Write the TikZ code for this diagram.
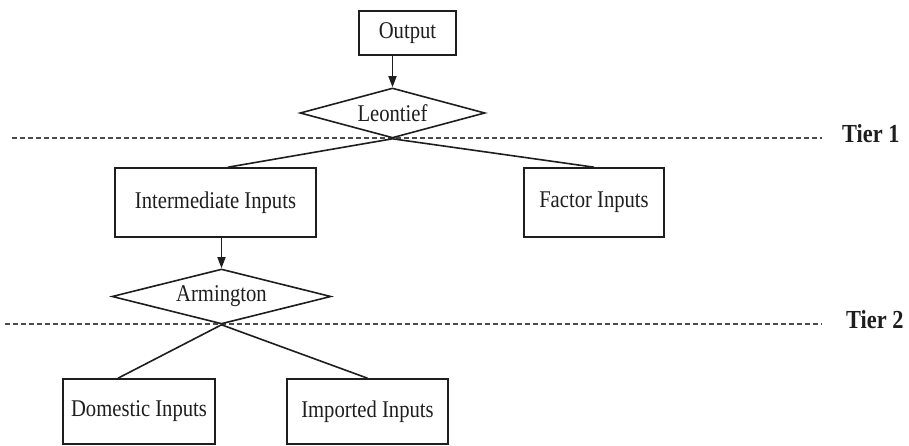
\documentclass[tikz,border=0pt]{standalone}
\usepackage{fontspec}
\setmainfont{Liberation Serif}[FakeStretch=0.86]
\usetikzlibrary{shapes.geometric,arrows.meta}
\definecolor{ink}{HTML}{1E1E1E}
\begin{document}
\begin{tikzpicture}[x=1pt,y=-1pt,
  every node/.style={font=\fontsize{24}{26}\selectfont, text=ink},
  box/.style={draw=ink, line width=1.6pt, rectangle, inner sep=0pt},
  gate/.style={draw=ink, line width=1.6pt, diamond, aspect=4, inner sep=0pt},
  link/.style={draw=ink, line width=1.6pt},
  feed/.style={link, -{Triangle[length=11pt,width=8pt]}},
  tierline/.style={draw=ink!80, line width=1.3pt, dash pattern=on 5pt off 3pt},
  tierlabel/.style={anchor=base west, inner sep=0pt, font=\bfseries\fontsize{26}{28}\selectfont}]
\useasboundingbox (0,0) rectangle (909,446);

% tier separators
\coordinate (t1a) at (12,138);  \coordinate (t1b) at (822,138);
\coordinate (t2a) at (5,324);   \coordinate (t2b) at (822,324);
\draw[tierline] (t1a) -- (t1b);
\draw[tierline] (t2a) -- (t2b);
\node[tierlabel] (tier1) at (842,143) {Tier 1};
\node[tierlabel] (tier2) at (846,328) {Tier 2};

% top nest
\node[box, minimum width=97pt, minimum height=44pt] (out) at (407.5,33) {Output};
\node[gate, minimum width=185pt, minimum height=50pt] (leo) at (392.5,113) {Leontief};
\node[box, minimum width=201pt, minimum height=69pt] (inter) at (215.5,202.5) {Intermediate Inputs};
\node[box, minimum width=140pt, minimum height=69pt] (fac) at (594,202.5) {Factor Inputs};

% lower nest
\node[gate, minimum width=219pt, minimum height=55pt] (arm) at (221.5,296.5) {Armington};
\node[box, minimum width=152pt, minimum height=65pt] (dom) at (139,411.5) {Domestic Inputs};
\node[box, minimum width=161pt, minimum height=65pt] (imp) at (367.5,411.5) {Imported Inputs};

% connectors
\draw[feed] (out.south -| leo.north) -- (leo.north);
\draw[link] (leo.south) -- ([xshift=12.5pt]inter.north);
\draw[link] (leo.south) -- (fac.north);
\draw[feed] (inter.south -| arm.north) -- (arm.north);
\draw[link] (arm.south) -- ([xshift=-21pt]dom.north);
\draw[link] (arm.south) -- (imp.north);
\end{tikzpicture}
\end{document}
